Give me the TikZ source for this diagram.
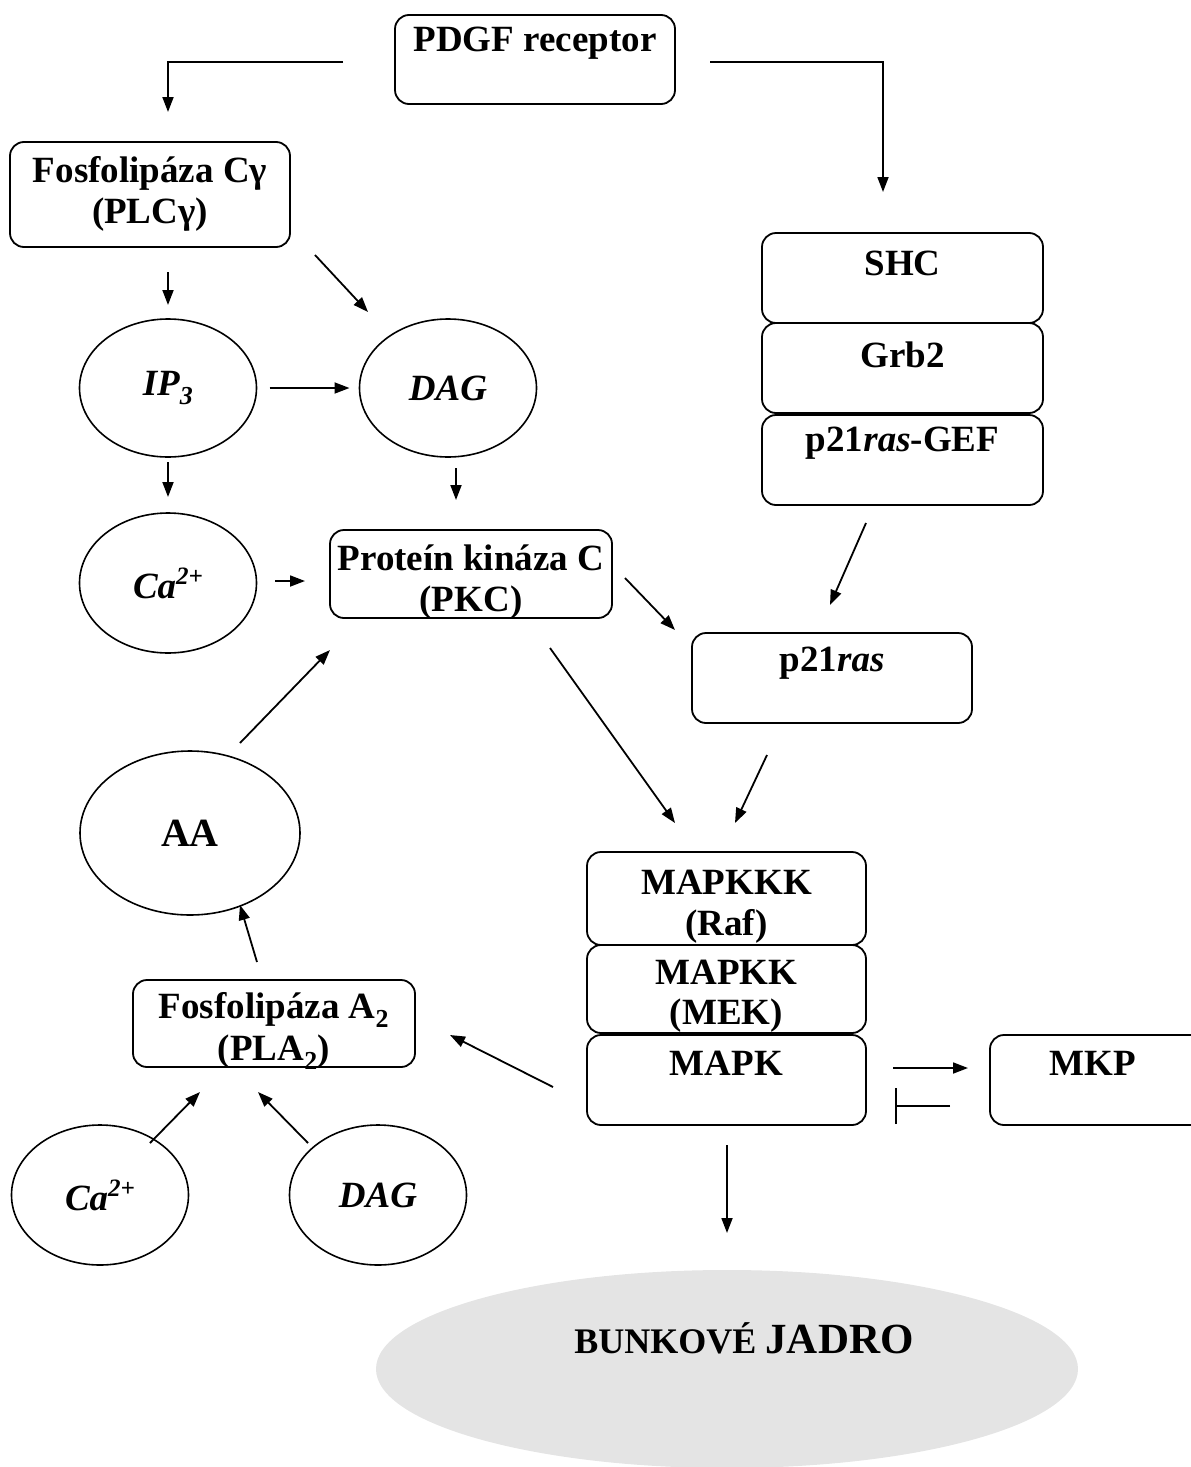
\documentclass[tikz,border=0pt]{standalone}
\usepackage{fontspec}
\setmainfont{Liberation Serif}
\usetikzlibrary{shapes.geometric,arrows.meta}
\definecolor{nucleusgray}{HTML}{E4E4E4}
% raised charge label for ions
\newcommand{\ionsup}[1]{\raisebox{14pt}{\fontsize{25}{28}\selectfont #1}}
\begin{document}
\begin{tikzpicture}[x=1pt,y=-1pt,
  every node/.style={inner sep=0pt,outer sep=0pt},
  txt/.style={font=\fontsize{37}{42}\selectfont\bfseries,anchor=center},
  box/.style={draw,line width=1.8pt,rounded corners=14pt,minimum width=#1,minimum height=88pt},
  oval/.style={draw,line width=1.6pt,ellipse,minimum width=177pt,minimum height=138pt,
    font=\fontsize{37}{42}\selectfont\bfseries\itshape},
  arr/.style={line width=1.8pt,-{Triangle[length=15pt,width=11pt]}},
  bar/.style={line width=1.8pt,-{Bar[width=36pt]}}]
\useasboundingbox (0,0) rectangle (1191,1467);

% receptor and the two branches
\node[box=280pt,minimum height=89pt] (pdgf) at (535,59.5) {};
\node[txt] at (535,43) {PDGF receptor};

\node[box=280pt,minimum height=105pt] (plc) at (150,194.5) {};
\node[txt] at (150,173) {Fosfolipáza Cγ};
\node[txt] at (150,215) {(PLCγ)};

% phospholipase C products
\node[oval] (ip3) at (168,388) {IP\textsubscript{3}};
\node[oval] (dag) at (448,388) {DAG};
\node[oval,minimum height=140pt] (ca) at (168,583) {Ca\ionsup{2+}};

\node[box=282pt] (pkc) at (471,574) {};
\node[txt] at (471,558) {Proteín kináza C};
\node[txt] at (471,603) {(PKC)};

% adaptor stack
\node[box=281pt,minimum height=90pt] (shc) at (902.5,278) {};
\node[txt] at (902.5,263) {SHC};
\node[box=281pt,minimum height=90pt] (grb) at (902.5,368) {};
\node[txt] at (902.5,355) {Grb2};
\node[box=281pt,minimum height=90pt] (gef) at (902.5,460) {};
\node[txt] at (902.5,443) {p21\textit{ras}-GEF};

\node[box=280pt,minimum height=90pt] (ras) at (832,678) {};
\node[txt] at (832,663) {p21\textit{ras}};

% MAP kinase cascade
\node[box=279pt,minimum height=93pt] (mapkkk) at (726.5,898.5) {};
\node[txt] at (726.5,882) {MAPKKK};
\node[txt] at (726.5,926) {(Raf)};
\node[box=279pt,minimum height=88pt] (mapkk) at (726.5,989) {};
\node[txt] at (726.5,972) {MAPKK};
\node[txt] at (726.5,1016) {(MEK)};
\node[box=279pt,minimum height=90pt] (mapk) at (726.5,1080) {};
\node[txt] at (726.5,1063) {MAPK};

\node[box=220pt,minimum height=90pt] (mkp) at (1100,1080) {};
\node[txt] at (1093,1063) {MKP};

% phospholipase A2 branch
\node[box=282pt,minimum height=87pt] (pla) at (274,1023.5) {};
\node[txt] at (274,1010) {Fosfolipáza A\textsubscript{2}};
\node[txt] at (274,1052) {(PLA\textsubscript{2})};

\node[oval,minimum width=220pt,minimum height=164pt,font=\fontsize{40}{44}\selectfont\bfseries] (aa) at (190,833) {AA};
\node[oval,minimum height=140pt] (ca2) at (100,1195) {Ca\ionsup{2+}};
\node[oval,minimum height=140pt] (dag2) at (378,1195) {DAG};

% nucleus
\node[ellipse,fill=nucleusgray,minimum width=702pt,minimum height=198pt] (jadro) at (727,1369) {};
\node[font=\bfseries] at (744,1338) {\fontsize{36}{40}\selectfont BUNKOVÉ \fontsize{43}{46}\selectfont JADRO};

% connector end points
\coordinate (pl) at (343,62);
\coordinate (pr) at (710,62);
\coordinate (plcd1) at (315,255);
\coordinate (plcd2) at (368,312);
\coordinate (gefe) at (866,523);
\coordinate (rasn) at (830,605);
\coordinate (pkce) at (625,578);
\coordinate (rasw) at (675,630);
\coordinate (pkcs) at (550,648);
\coordinate (rafn1) at (675,823);
\coordinate (rass) at (767,755);
\coordinate (rafn2) at (735,823);
\coordinate (mapkw) at (553,1087);
\coordinate (plae) at (450,1035);
\coordinate (plan) at (257,962);
\coordinate (aas) at (240,905);
\coordinate (aan) at (240,743);
\coordinate (pkcw) at (330,650);
\coordinate (ca2n) at (150,1143);
\coordinate (plaw) at (200,1092);
\coordinate (dag2n) at (308,1143);
\coordinate (plas) at (258,1092);

% connectors
\draw[arr] (pl) -| (168,112);
\draw[arr] (pr) -| (883,192);
\draw[arr] (168,272) -- (168,305);
\draw[arr] (plcd1) -- (plcd2);
\draw[arr,shorten <=13pt,shorten >=10pt] (ip3.east) -- (dag.west);
\draw[arr] (168,462) -- (168,497);
\draw[arr] (456,468) -- (456,500);
\draw[arr] (275,581) -- (305,581);
\draw[arr] (gefe) -- (rasn);
\draw[arr] (pkce) -- (rasw);
\draw[arr] (pkcs) -- (rafn1);
\draw[arr] (rass) -- (rafn2);
\draw[arr] (893,1068) -- (968,1068);
\draw[bar] (950,1106) -- (895,1106);
\draw[arr] (727,1145) -- (727,1233);
\draw[arr] (mapkw) -- (plae);
\draw[arr] (plan) -- (aas);
\draw[arr] (aan) -- (pkcw);
\draw[arr] (ca2n) -- (plaw);
\draw[arr] (dag2n) -- (plas);
\end{tikzpicture}
\end{document}
